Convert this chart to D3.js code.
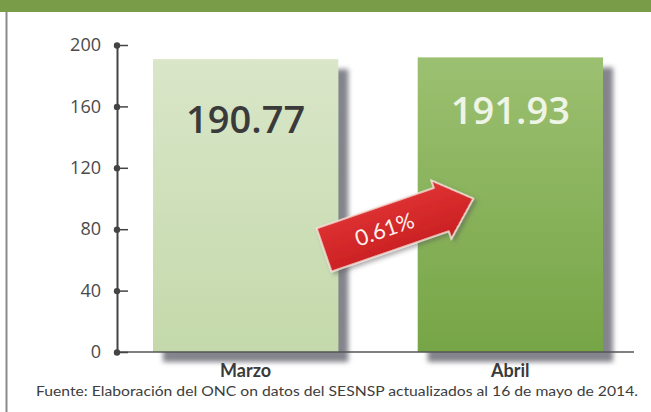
<!DOCTYPE html>
<html>
<head>
<meta charset="utf-8">
<script src="https://cdn.jsdelivr.net/npm/d3@7"></script>
<style>
  body { margin: 0; background: #fff; }
  svg { display: block; font-family: Lato, "Open Sans", sans-serif; }
</style>
</head>
<body>
<div id="chart"></div>
<script>
// data
let categories = ["Marzo", "Abril"]
let values = [190.77, 191.93]
let valueLabels = ["190.77", "191.93"]
let yTicks = [0, 40, 80, 120, 160, 200]
let changeLabel = "0.61%"
let sourceNote = "Fuente: Elaboración del ONC on datos del SESNSP actualizados al 16 de mayo  de 2014."

let width = 651
let height = 412

let svg = d3.select("#chart")
    .append("svg")
    .attr("width", width)
    .attr("height", height)

let defs = svg.append("defs")

// gradients for the two bars
let g1 = defs.append("linearGradient").attr("id", "gMarzo").attr("x1", 0).attr("y1", 0).attr("x2", 0).attr("y2", 1)
g1.append("stop").attr("offset", "0%").attr("stop-color", "#d9e6c8")
g1.append("stop").attr("offset", "100%").attr("stop-color", "#c4d9ab")

let g2 = defs.append("linearGradient").attr("id", "gAbril").attr("x1", 0).attr("y1", 0).attr("x2", 0).attr("y2", 1)
g2.append("stop").attr("offset", "0%").attr("stop-color", "#9cc071")
g2.append("stop").attr("offset", "100%").attr("stop-color", "#76a546")

let gRed = defs.append("linearGradient").attr("id", "gRed").attr("x1", 0).attr("y1", 0).attr("x2", 0).attr("y2", 1)
gRed.append("stop").attr("offset", "0%").attr("stop-color", "#e03333")
gRed.append("stop").attr("offset", "100%").attr("stop-color", "#c81f22")

let shadow = defs.append("filter").attr("id", "barShadow")
    .attr("x", "-10%").attr("y", "-10%").attr("width", "130%").attr("height", "130%")
shadow.append("feDropShadow")
    .attr("dx", 10).attr("dy", 10).attr("stdDeviation", 2.5)
    .attr("flood-color", "#6e6e78").attr("flood-opacity", 0.85)

let arrowShadow = defs.append("filter").attr("id", "arrowShadow")
    .attr("x", "-20%").attr("y", "-30%").attr("width", "150%").attr("height", "170%")
arrowShadow.append("feDropShadow")
    .attr("dx", 2).attr("dy", 3).attr("stdDeviation", 2)
    .attr("flood-color", "#555").attr("flood-opacity", 0.5)

// header band and frame
svg.append("rect")
    .attr("x", 0).attr("y", 0).attr("width", width).attr("height", 12)
    .attr("fill", "#789c48")
svg.append("line")
    .attr("x1", 6.5).attr("x2", 6.5).attr("y1", 12).attr("y2", height)
    .attr("stroke", "#8a8a8a").attr("stroke-width", 2)

// scales
let axisLeft = 117
let axisBottom = 352

let yScale = d3.scaleLinear()
    .domain([0, 200])
    .range([axisBottom, 45])

let xScale = d3.scaleBand()
    .domain(categories)
    .range([axisLeft, 639])
    .paddingInner(0.3)
    .paddingOuter(0.136)

// bars
let fills = ["url(#gMarzo)", "url(#gAbril)"]
svg.append("g")
    .selectAll("rect")
    .data(categories)
    .join("rect")
    .attr("x", d => xScale(d))
    .attr("y", (d, i) => yScale(values[i]))
    .attr("width", xScale.bandwidth())
    .attr("height", (d, i) => axisBottom - yScale(values[i]))
    .attr("fill", (d, i) => fills[i])
    .attr("filter", "url(#barShadow)")

// value labels inside bars
let labelColors = ["#3a3a3a", "#eef4e6"]
let labelOffsets = [74, 67]
svg.append("g")
    .selectAll("text")
    .data(categories)
    .join("text")
    .attr("x", d => xScale(d) + xScale.bandwidth() / 2)
    .attr("y", (d, i) => yScale(values[i]) + labelOffsets[i])
    .attr("text-anchor", "middle")
    .attr("font-size", 38)
    .attr("font-weight", 600)
    .attr("font-family", "'Open Sans', Lato, sans-serif")
    .attr("fill", (d, i) => labelColors[i])
    .text((d, i) => valueLabels[i])

// x axis line
svg.append("line")
    .attr("x1", axisLeft).attr("x2", 634)
    .attr("y1", axisBottom).attr("y2", axisBottom)
    .attr("stroke", "#555").attr("stroke-width", 1.5)

// y axis
let yAxis = d3.axisLeft(yScale)
    .tickValues(yTicks)
    .tickSize(0)
    .tickPadding(16)

let yG = svg.append("g")
    .attr("transform", `translate(${axisLeft}, 0)`)
    .call(yAxis)

yG.select(".domain").attr("stroke", "#444").attr("stroke-width", 2)
yG.selectAll("text")
    .attr("font-size", 18)
    .attr("font-family", "'Open Sans', sans-serif")
    .attr("fill", "#4a4a4a")

yG.selectAll(".tick").append("line")
    .attr("x1", 0).attr("x2", 11)
    .attr("stroke", "#444").attr("stroke-width", 1.5)
yG.selectAll(".tick").append("circle")
    .attr("r", 3.2)
    .attr("fill", "#444")

// category labels
svg.append("g")
    .selectAll("text")
    .data(categories)
    .join("text")
    .attr("x", d => xScale(d) + xScale.bandwidth() / 2)
    .attr("y", 377)
    .attr("text-anchor", "middle")
    .attr("font-size", 18)
    .attr("font-weight", 700)
    .attr("font-family", "Lato, 'Open Sans', sans-serif")
    .attr("fill", "#3a3a3a")
    .text(d => d)

// red arrow showing the change between the two months
let arrowLen = 158
let headLen = 34
let bodyHalf = 23
let headHalf = 31
let arrowPts = [
    [0, -bodyHalf], [arrowLen - headLen, -bodyHalf], [arrowLen - headLen, -headHalf],
    [arrowLen, 0],
    [arrowLen - headLen, headHalf], [arrowLen - headLen, bodyHalf], [0, bodyHalf]
]

let arrowG = svg.append("g")
    .attr("transform", "translate(324, 250) rotate(-19)")

arrowG.append("path")
    .attr("d", d3.line()(arrowPts) + "Z")
    .attr("fill", "url(#gRed)")
    .attr("stroke", "#f6e8e0")
    .attr("stroke-width", 1.5)
    .attr("stroke-linejoin", "miter")
    .attr("filter", "url(#arrowShadow)")

arrowG.append("text")
    .attr("x", 64)
    .attr("y", 8)
    .attr("text-anchor", "middle")
    .attr("font-size", 22)
    .attr("font-family", "Lato, 'Open Sans', sans-serif")
    .attr("fill", "#fdf2ee")
    .text(changeLabel)

// source note
svg.append("text")
    .attr("x", 36)
    .attr("y", 396)
    .attr("font-size", 12.5)
    .attr("font-weight", 400)
    .attr("font-family", "Lato, sans-serif")
    .attr("fill", "#3d3d3d")
    .attr("textLength", 602)
    .attr("lengthAdjust", "spacingAndGlyphs")
    .text(sourceNote)
</script>
</body>
</html>
